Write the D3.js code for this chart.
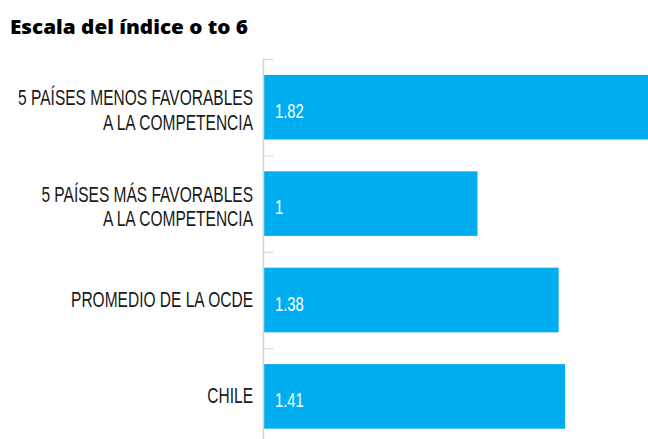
<!DOCTYPE html>
<html>
<head>
<meta charset="utf-8">
<script src="https://cdn.jsdelivr.net/npm/d3@7"></script>
<style>
    body { margin: 0; background: #fff; }
    svg { display: block; }
    .label { font-family: "Liberation Sans Narrow", "Liberation Sans", sans-serif; font-size: 22px; fill: #1a1a1a; }
    .value { font-family: "Liberation Sans Narrow", "Liberation Sans", sans-serif; font-size: 21px; fill: #fff; }
    .title { font-family: "Open Sans", "Noto Sans", sans-serif; font-size: 19.5px; font-weight: 800; fill: #000; }
</style>
</head>
<body>
<svg id="chart" width="648" height="439"></svg>
<script>
// Chart data
const categories = [
    ["5 PAÍSES MENOS FAVORABLES", "A LA COMPETENCIA"],
    ["5 PAÍSES MÁS FAVORABLES", "A LA COMPETENCIA"],
    ["PROMEDIO DE LA OCDE"],
    ["CHILE"]
];
const values = [1.82, 1, 1.38, 1.41];
const valueLabels = ["1.82", "1", "1.38", "1.41"];
const title = "Escala del índice o to 6";

const width = 648, height = 439;
const axisX = 263.5;

let svg = d3.select("#chart");

let y = d3.scaleBand()
          .domain(d3.range(categories.length))
          .range([59, 444.6])
          .paddingInner(0.33)
          .paddingOuter(0.165);

let x = d3.scaleLinear()
          .domain([0, 2])
          .range([264, 691]);

// Title
svg.append("text")
   .attr("class", "title")
   .attr("x", 10)
   .attr("y", 34)
   .attr("textLength", 238)
   .attr("lengthAdjust", "spacingAndGlyphs")
   .text(title);

// Narrow-font squeeze so the labels match the condensed original
let probe = svg.append("text").attr("class", "label").text(categories[0][0]);
const squeeze = Math.min(1, 235 / probe.node().getComputedTextLength());
probe.remove();

// Bars
svg.selectAll("rect.bar")
   .data(values)
   .enter()
   .append("rect")
   .attr("class", "bar")
   .attr("x", x(0))
   .attr("y", (d, i) => y(i))
   .attr("width", (d) => x(d) - x(0))
   .attr("height", y.bandwidth())
   .attr("fill", "#00aeef");

// Axis line and ticks at band boundaries
svg.append("line")
   .attr("x1", axisX).attr("x2", axisX)
   .attr("y1", y.range()[0]).attr("y2", height)
   .attr("stroke", "#d3d3d3")
   .attr("stroke-width", 1.5);

svg.selectAll("line.tick")
   .data(d3.range(categories.length))
   .enter()
   .append("line")
   .attr("class", "tick")
   .attr("x1", axisX).attr("x2", axisX + 10)
   .attr("y1", (i) => y.range()[0] + i * y.step() + 0.5)
   .attr("y2", (i) => y.range()[0] + i * y.step() + 0.5)
   .attr("stroke", "#d3d3d3")
   .attr("stroke-width", 1);

// Category labels
let labels = svg.selectAll("g.label")
                .data(categories)
                .enter()
                .append("g")
                .attr("transform", (d, i) => {
                    let cy = y(i) + y.bandwidth() / 2;
                    let top = d.length > 1 ? cy - 2 : cy + 7;
                    return `translate(253,${top}) scale(${squeeze},1)`;
                });

labels.selectAll("text")
      .data((d) => d)
      .enter()
      .append("text")
      .attr("class", "label")
      .attr("text-anchor", "end")
      .attr("y", (d, j) => j * 24.5)
      .text((d) => d);

// Value labels inside the bars
svg.selectAll("g.value")
   .data(valueLabels)
   .enter()
   .append("g")
   .attr("transform", (d, i) => `translate(275,${y(i) + y.bandwidth() / 2 + 10.5}) scale(${squeeze},1)`)
   .append("text")
   .attr("class", "value")
   .text((d) => d);
</script>
</body>
</html>
